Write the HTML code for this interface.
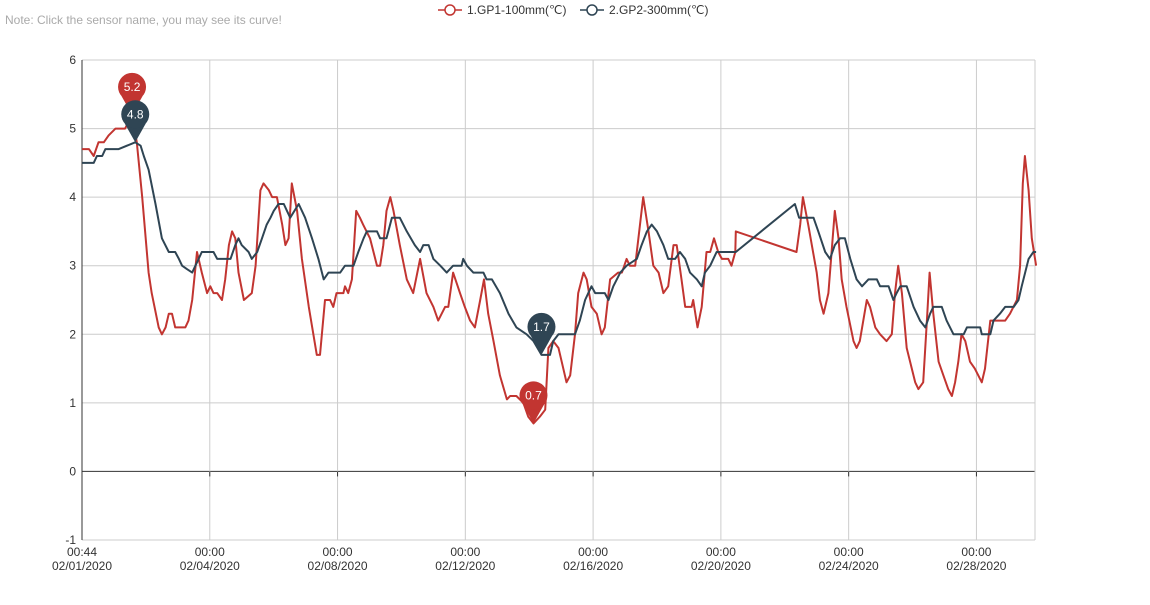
<!DOCTYPE html>
<html><head><meta charset="utf-8">
<style>
body{margin:0;background:#fff;font-family:"Liberation Sans",sans-serif;}
svg text{font-family:"Liberation Sans",sans-serif;}
</style></head>
<body>
<svg id="chart" width="1150" height="600" viewBox="0 0 1150 600" xmlns="http://www.w3.org/2000/svg">
<text x="5" y="24" font-size="12" fill="#aaa">Note: Click the sensor name, you may see its curve!</text>
<g>
<line x1="438" y1="10" x2="462" y2="10" stroke="#c23531" stroke-width="1.5"/>
<circle cx="450" cy="10" r="5" fill="#fff" stroke="#c23531" stroke-width="1.5"/>
<text x="467" y="14" font-size="12" fill="#333">1.GP1-100mm(℃)</text>
</g>
<g>
<line x1="580" y1="10" x2="604" y2="10" stroke="#2f4554" stroke-width="1.5"/>
<circle cx="592" cy="10" r="5" fill="#fff" stroke="#2f4554" stroke-width="1.5"/>
<text x="609" y="14" font-size="12" fill="#333">2.GP2-300mm(℃)</text>
</g>
<g id="grid"></g>
<g id="series"></g>
<g id="marks"></g>
</svg>
<script>
const yTicks=[-1,0,1,2,3,4,5,6];
const xTickIdx=[0,24,48,72,96,120,144,168];
const xTickTime=["00:44","00:00","00:00","00:00","00:00","00:00","00:00","00:00"];
const xTickDate=["02/01/2020","02/04/2020","02/08/2020","02/12/2020","02/16/2020","02/20/2020","02/24/2020","02/28/2020"];
const gp1Idx=[0,1.3,2.2,3.1,4.1,5.0,6.3,8.1,9.4,10.3,11.3,12.5,13.1,14.4,15.0,15.7,16.3,16.9,17.5,19.4,20.0,20.7,21.6,22.5,23.5,24.1,24.7,25.4,26.3,26.9,27.6,28.2,28.8,29.4,30.4,31.9,32.6,33.5,34.1,35.1,35.7,36.6,37.6,38.2,38.8,39.4,40.4,41.3,42.6,44.1,44.7,45.65,46.6,47.2,47.8,49.1,49.4,50.0,50.7,51.5,52.2,52.8,54.1,55.4,56.0,56.6,57.2,57.9,58.5,59.7,61.0,62.2,63.5,64.7,66.0,66.9,68.2,68.8,69.7,71.0,71.9,72.9,73.8,74.8,75.5,76.3,77.3,78.5,79.8,80.4,81.6,82.9,83.8,84.8,86.0,87.0,87.6,88.5,89.5,90.1,91.0,91.7,92.6,93.2,94.2,94.8,95.7,96.7,97.6,98.2,99.2,100.7,101.4,102.3,102.9,103.9,104.8,105.4,106.4,107.3,108.3,109.2,110.1,111.1,111.7,112.6,113.3,114.5,114.8,115.6,116.4,117.3,118.0,118.7,119.5,120.2,121.4,122.0,122.7,122.8,134.2,134.9,135.4,136.4,138.0,138.6,139.3,140.2,140.8,141.4,142.1,142.7,143.6,144.9,145.5,146.1,147.4,148.0,149.0,149.9,151.1,152.1,152.7,153.3,154.0,154.9,156.5,157.1,158.0,158.7,159.2,159.9,160.9,161.8,162.7,163.4,164.0,164.6,165.2,165.9,166.8,167.7,169.0,169.6,170.6,172.4,173.4,174.3,175.6,176.2,176.7,177.1,177.8,178.4,179.2];
const gp1Val=[4.7,4.7,4.6,4.8,4.8,4.9,5.0,5.0,5.2,4.8,4.0,2.9,2.6,2.1,2.0,2.1,2.3,2.3,2.1,2.1,2.2,2.5,3.2,2.9,2.6,2.7,2.6,2.6,2.5,2.8,3.3,3.5,3.4,2.9,2.5,2.6,3.0,4.1,4.2,4.1,4.0,4.0,3.6,3.3,3.4,4.2,3.8,3.1,2.4,1.7,1.7,2.5,2.5,2.4,2.6,2.6,2.7,2.6,2.8,3.8,3.7,3.6,3.4,3.0,3.0,3.3,3.8,4.0,3.8,3.3,2.8,2.6,3.1,2.6,2.4,2.2,2.4,2.4,2.9,2.6,2.4,2.2,2.1,2.5,2.8,2.3,1.9,1.4,1.05,1.1,1.1,1.0,0.8,0.7,0.8,0.9,1.8,1.9,1.8,1.6,1.3,1.4,2.0,2.6,2.9,2.8,2.4,2.3,2.0,2.1,2.8,2.9,2.9,3.1,3.0,3.0,3.6,4.0,3.5,3.0,2.9,2.6,2.7,3.3,3.3,2.8,2.4,2.4,2.5,2.1,2.4,3.2,3.2,3.4,3.2,3.1,3.1,3.0,3.2,3.5,3.2,3.6,4.0,3.6,2.9,2.5,2.3,2.6,3.2,3.8,3.4,2.8,2.4,1.9,1.8,1.9,2.5,2.4,2.1,2.0,1.9,2.0,2.6,3.0,2.6,1.8,1.3,1.2,1.3,2.2,2.9,2.3,1.6,1.4,1.2,1.1,1.3,1.6,2.0,1.9,1.6,1.5,1.3,1.5,2.2,2.2,2.2,2.3,2.5,3.0,4.2,4.6,4.1,3.4,3.0];
const gp2Idx=[0,2.2,2.8,3.8,4.4,6.3,6.9,10.0,11.0,11.6,12.5,13.8,15.0,16.3,17.5,18.2,18.8,19.7,20.7,21.3,21.9,22.5,24.7,25.4,27.9,28.8,29.4,30.0,31.3,31.9,32.9,33.8,34.7,35.4,36.0,36.9,37.9,38.5,39.1,40.7,41.9,43.2,44.4,45.4,46.3,48.5,49.4,51.0,51.9,52.9,53.5,55.4,56.0,57.2,58.2,59.7,61.0,62.5,63.5,64.1,65.1,66.0,67.3,68.5,69.7,71.3,71.6,72.3,73.5,75.4,76.0,77.0,78.5,80.1,81.6,83.5,84.8,86.3,87.9,88.5,89.5,92.6,93.5,94.5,95.1,95.7,96.4,98.2,98.9,99.8,101.1,102.3,104.2,105.1,106.1,107.0,108.0,109.2,110.1,111.4,112.3,113.3,114.2,115.5,116.4,117.0,118.0,119.2,122.8,133.9,134.7,137.4,138.3,139.6,140.5,141.4,142.4,143.3,144.3,145.5,146.5,147.7,149.3,149.9,151.5,152.4,153.0,153.7,154.9,156.2,157.4,158.4,159.3,159.9,161.5,162.4,163.7,165.6,166.2,168.7,169.0,170.6,171.2,172.4,173.4,175.0,175.9,176.5,177.8,178.7,179.2];
const gp2Val=[4.5,4.5,4.6,4.6,4.7,4.7,4.7,4.8,4.75,4.6,4.4,3.9,3.4,3.2,3.2,3.1,3.0,2.95,2.9,3.0,3.1,3.2,3.2,3.1,3.1,3.3,3.4,3.3,3.2,3.1,3.2,3.4,3.6,3.7,3.8,3.9,3.9,3.8,3.7,3.9,3.7,3.4,3.1,2.8,2.9,2.9,3.0,3.0,3.2,3.4,3.5,3.5,3.4,3.4,3.7,3.7,3.5,3.3,3.2,3.3,3.3,3.1,3.0,2.9,3.0,3.0,3.1,3.0,2.9,2.9,2.8,2.8,2.6,2.3,2.1,2.0,1.9,1.7,1.7,1.9,2.0,2.0,2.2,2.5,2.6,2.7,2.6,2.6,2.5,2.7,2.9,3.0,3.1,3.3,3.5,3.6,3.5,3.3,3.1,3.1,3.2,3.1,2.9,2.8,2.7,2.9,3.0,3.2,3.2,3.9,3.7,3.7,3.5,3.2,3.1,3.3,3.4,3.4,3.1,2.8,2.7,2.8,2.8,2.7,2.7,2.5,2.6,2.7,2.7,2.4,2.2,2.1,2.3,2.4,2.4,2.2,2.0,2.0,2.1,2.1,2.0,2.0,2.2,2.3,2.4,2.4,2.5,2.7,3.1,3.2,3.2];

const X0=82,X1=1035,Y0=540,Y1=60,IMAX=179;
const xs=i=>X0+(X1-X0)*i/IMAX;
const ys=v=>Y0-(Y0-Y1)*(v-(-1))/7;
const NS="http://www.w3.org/2000/svg";
function mk(tag,attrs,parent){const e=document.createElementNS(NS,tag);for(const k in attrs)e.setAttribute(k,attrs[k]);parent.appendChild(e);return e;}
const grid=document.getElementById('grid');
yTicks.forEach(v=>{
  const l=mk('line',{x1:X0,x2:X1,y1:ys(v),y2:ys(v),stroke:v===0?'#333':'#ccc','stroke-width':1},grid);
  
  
  const t=mk('text',{x:X0-6,y:ys(v)+4,'text-anchor':'end','font-size':12,fill:'#333'},grid);
  t.textContent=v;
  
  
});
xTickIdx.forEach((i,k)=>{
  const x=xs(i);
  if(k>0){const g=mk('line',{x1:x,x2:x,y1:Y1,y2:Y0,stroke:'#ccc'},grid);
  
  }
  const tk=mk('line',{x1:x,x2:x,y1:ys(0),y2:ys(0)+5,stroke:'#333'},grid);
  
  
  const t1=mk('text',{x:x,y:556,'text-anchor':'middle','font-size':12,fill:'#333'},grid);
  t1.textContent=xTickTime[k];
  
  
  const t2=mk('text',{x:x,y:570,'text-anchor':'middle','font-size':12,fill:'#333'},grid);
  t2.textContent=xTickDate[k];
  
  
});
const rb=mk('line',{x1:X1,x2:X1,y1:Y1,y2:Y0,stroke:'#ccc'},grid);


const ax=mk('line',{x1:X0,x2:X0,y1:Y1,y2:Y0,stroke:'#333'},grid);



const ser=document.getElementById('series');
function drawLine(idx,val,color,name){
  const d=idx.map((i,k)=>(k?'L':'M')+xs(i).toFixed(1)+','+ys(val[k]).toFixed(1)).join('');
  const p=mk('path',{d:d,fill:'none',stroke:color,'stroke-width':2,'stroke-linejoin':'round'},ser);
  
  
}
drawLine(gp1Idx,gp1Val,'#c23531','series-gp1-line');
drawLine(gp2Idx,gp2Val,'#2f4554','series-gp2-line');

const marks=document.getElementById('marks');
function pin(i,v,color,name){
  const x=xs(i),y=ys(v),cy=y-28,r=14;
  const g=mk('g',{},marks);
  
  
  mk('path',{d:`M${x-r*0.75},${cy+r*0.66} L${x},${y} L${x+r*0.75},${cy+r*0.66} Z`,fill:color},g);
  mk('circle',{cx:x,cy:cy,r:r,fill:color},g);
  const t=mk('text',{x:x,y:cy+4,'text-anchor':'middle','font-size':12,fill:'#fff'},g);
  t.textContent=v;
}
function ext(idx,val,isMax){let b=0;for(let k=1;k<val.length;k++){if(isMax?val[k]>val[b]:val[k]<val[b])b=k;}return [idx[b],val[b]];}
let m;
m=ext(gp1Idx,gp1Val,true);pin(m[0],m[1],'#c23531','gp1-max-marker');
m=ext(gp1Idx,gp1Val,false);pin(m[0],m[1],'#c23531','gp1-min-marker');
m=ext(gp2Idx,gp2Val,true);pin(m[0],m[1],'#2f4554','gp2-max-marker');
m=ext(gp2Idx,gp2Val,false);pin(m[0],m[1],'#2f4554','gp2-min-marker');
</script>
</body></html>
